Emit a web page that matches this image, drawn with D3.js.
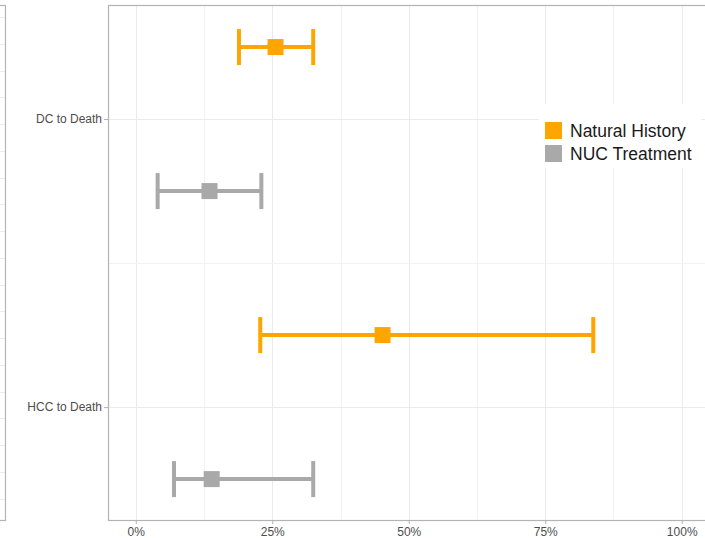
<!DOCTYPE html>
<html>
<head>
<meta charset="utf-8">
<script src="https://cdn.jsdelivr.net/npm/d3@7"></script>
<style>
  body { margin: 0; background: #fff; }
  svg { display: block; font-family: "Liberation Sans", Arial, sans-serif; }
</style>
</head>
<body>
<svg id="chart" width="705" height="538"></svg>
<script>
// data (percent)
const categories = ["DC to Death", "HCC to Death"];
const groups = ["Natural History", "NUC Treatment"];
const colors = ["#FFA500", "#A9A9A9"];

const estimates = [
  // DC to Death
  { cat: "DC to Death", group: "Natural History", est: 25.6, lo: 18.9, hi: 32.5 },
  { cat: "DC to Death", group: "NUC Treatment", est: 13.5, lo: 4.0, hi: 23.0 },
  // HCC to Death
  { cat: "HCC to Death", group: "Natural History", est: 45.2, lo: 22.8, hi: 83.8 },
  { cat: "HCC to Death", group: "NUC Treatment", est: 13.9, lo: 7.0, hi: 32.5 }
];

const xTicks = [0, 25, 50, 75, 100];
const xMinor = [12.5, 37.5, 62.5, 87.5];

const svg = d3.select("#chart");

// panel geometry
const panel = { left: 108, top: 5, bottom: 520, right: 709 };

const x = d3.scaleLinear().domain([-5, 105]).range([panel.left + 0.5, panel.right]);
// categories sit on positions 1 and 2, groups dodged by a quarter unit
const y = d3.scaleLinear().domain([0.604, 2.392]).range([panel.top, panel.bottom]);
const dodge = 0.25;
const color = d3.scaleOrdinal().domain(groups).range(colors);

// neighbouring panel that is mostly cropped off on the left
const leftPanel = svg.append("g");
for (let yy = 17; yy < 520; yy += 26.75) {
  leftPanel.append("line")
    .attr("x1", 0).attr("x2", 5)
    .attr("y1", Math.round(yy) + 0.5).attr("y2", Math.round(yy) + 0.5)
    .attr("stroke", "#ebebeb");
}
leftPanel.append("rect")
  .attr("x", -50).attr("y", panel.top + 0.5)
  .attr("width", 55.5).attr("height", panel.bottom - panel.top)
  .attr("fill", "none").attr("stroke", "#b3b3b3").attr("stroke-width", 1.2);

// grid
const grid = svg.append("g");
grid.selectAll(".vminor").data(xMinor).enter().append("line")
  .attr("x1", d => Math.round(x(d)) + 0.5).attr("x2", d => Math.round(x(d)) + 0.5)
  .attr("y1", panel.top).attr("y2", panel.bottom)
  .attr("stroke", "#f2f2f2");
grid.selectAll(".vmajor").data(xTicks).enter().append("line")
  .attr("x1", d => Math.round(x(d)) + 0.5).attr("x2", d => Math.round(x(d)) + 0.5)
  .attr("y1", panel.top).attr("y2", panel.bottom)
  .attr("stroke", "#ebebeb");
grid.append("line")
  .attr("x1", panel.left).attr("x2", panel.right)
  .attr("y1", Math.round(y(1.5)) + 0.5).attr("y2", Math.round(y(1.5)) + 0.5)
  .attr("stroke", "#f2f2f2");
grid.selectAll(".hmajor").data(categories).enter().append("line")
  .attr("x1", panel.left).attr("x2", panel.right)
  .attr("y1", (d, i) => Math.round(y(i + 1)) + 0.5)
  .attr("y2", (d, i) => Math.round(y(i + 1)) + 0.5)
  .attr("stroke", "#ebebeb");

// error bars
const capHalf = 18;
const barY = d => y(categories.indexOf(d.cat) + 1) + (groups.indexOf(d.group) === 0 ? -dodge : dodge) * (y(2) - y(1));

const bars = svg.append("g").selectAll("g").data(estimates).enter().append("g");
bars.append("line")
  .attr("x1", d => x(d.lo)).attr("x2", d => x(d.hi))
  .attr("y1", barY).attr("y2", barY)
  .attr("stroke", d => color(d.group)).attr("stroke-width", 4);
bars.append("line")
  .attr("x1", d => x(d.lo)).attr("x2", d => x(d.lo))
  .attr("y1", d => barY(d) - capHalf).attr("y2", d => barY(d) + capHalf)
  .attr("stroke", d => color(d.group)).attr("stroke-width", 4);
bars.append("line")
  .attr("x1", d => x(d.hi)).attr("x2", d => x(d.hi))
  .attr("y1", d => barY(d) - capHalf).attr("y2", d => barY(d) + capHalf)
  .attr("stroke", d => color(d.group)).attr("stroke-width", 4);
bars.append("rect")
  .attr("x", d => x(d.est) - 8).attr("y", d => barY(d) - 8)
  .attr("width", 16).attr("height", 16)
  .attr("fill", d => color(d.group));

// panel border
svg.append("rect")
  .attr("x", panel.left + 0.5).attr("y", panel.top + 0.5)
  .attr("width", panel.right - panel.left).attr("height", panel.bottom - panel.top)
  .attr("fill", "none").attr("stroke", "#b3b3b3").attr("stroke-width", 1.2);

// x axis
const xAxis = svg.append("g")
  .attr("transform", "translate(0," + panel.bottom + ")")
  .call(d3.axisBottom(x).tickValues(xTicks).tickFormat(d => d + "%").tickSize(4).tickPadding(3));
xAxis.select(".domain").remove();
xAxis.selectAll(".tick line").attr("stroke", "#b3b3b3");
xAxis.selectAll(".tick text").attr("fill", "#4d4d4d").attr("font-size", 12)
  .attr("font-family", "Liberation Sans, Arial, sans-serif");

// y axis
const yAxis = svg.append("g")
  .attr("transform", "translate(" + panel.left + ",0)")
  .call(d3.axisLeft(d3.scalePoint().domain(categories).range([y(1), y(2)]))
    .tickSize(4).tickPadding(2));
yAxis.select(".domain").remove();
yAxis.selectAll(".tick line").attr("stroke", "#b3b3b3");
yAxis.selectAll(".tick text").attr("fill", "#4d4d4d").attr("font-size", 12)
  .attr("font-family", "Liberation Sans, Arial, sans-serif");

// legend
const legend = svg.append("g").attr("transform", "translate(539,104)");
legend.append("rect").attr("width", 162).attr("height", 64).attr("fill", "#fff");
const items = legend.selectAll(".item").data(groups).enter().append("g")
  .attr("transform", (d, i) => "translate(6," + (18 + i * 23) + ")");
items.append("rect").attr("width", 17).attr("height", 17).attr("fill", d => color(d));
items.append("text")
  .attr("x", 25).attr("y", 15)
  .attr("font-size", 17.5).attr("fill", "#1a1a1a")
  .text(d => d);
</script>
</body>
</html>
